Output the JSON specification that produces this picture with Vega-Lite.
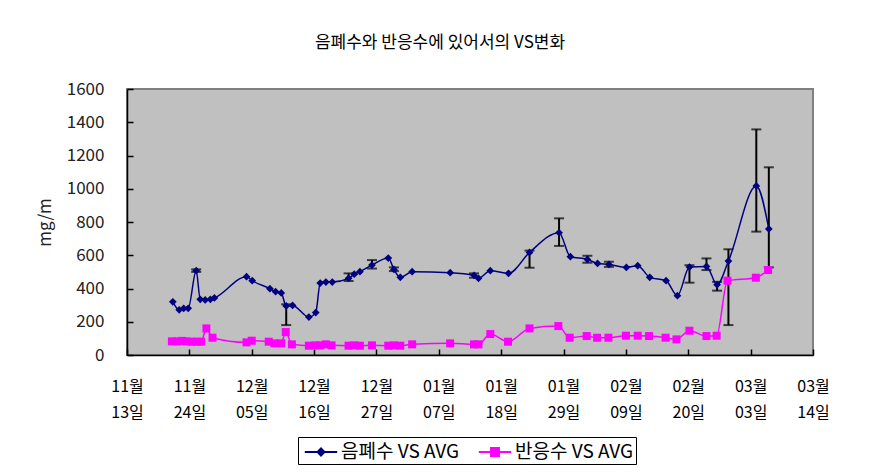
{
  "$schema": "https://vega.github.io/schema/vega-lite/v6.json",
  "width": 686,
  "height": 266,
  "autosize": "none",
  "padding": {"left": 127, "top": 89, "right": 70, "bottom": 120},
  "background": "white",
  "title": {"text": "음폐수와 반응수에 있어서의 VS변화", "fontSize": 17, "fontWeight": "normal", "font": "Noto Sans CJK KR", "color": "black", "dx": -30, "offset": 28},
  "config": {
    "view": {"fill": "#C0C0C0", "stroke": "#808080", "strokeWidth": 2},
    "font": "Noto Sans CJK KR",
    "axisY": {"labelOverlap": false}
  },
  "data": {"values": [
    {"date": "2006/11/21 02:00", "series": "음폐수 VS AVG", "value": 320},
    {"date": "2006/11/22 05:00", "series": "음폐수 VS AVG", "value": 272},
    {"date": "2006/11/23 00:00", "series": "음폐수 VS AVG", "value": 280},
    {"date": "2006/11/23 19:00", "series": "음폐수 VS AVG", "value": 281},
    {"date": "2006/11/25 05:00", "series": "음폐수 VS AVG", "value": 507, "lo": 500, "hi": 515},
    {"date": "2006/11/25 22:00", "series": "음폐수 VS AVG", "value": 335},
    {"date": "2006/11/26 19:00", "series": "음폐수 VS AVG", "value": 331},
    {"date": "2006/11/27 17:00", "series": "음폐수 VS AVG", "value": 335},
    {"date": "2006/11/28 10:00", "series": "음폐수 VS AVG", "value": 343},
    {"date": "2006/12/04 02:00", "series": "음폐수 VS AVG", "value": 471},
    {"date": "2006/12/05 02:00", "series": "음폐수 VS AVG", "value": 447},
    {"date": "2006/12/08 05:00", "series": "음폐수 VS AVG", "value": 399},
    {"date": "2006/12/09 05:00", "series": "음폐수 VS AVG", "value": 381},
    {"date": "2006/12/10 05:00", "series": "음폐수 VS AVG", "value": 373},
    {"date": "2006/12/11 02:00", "series": "음폐수 VS AVG", "value": 295, "lo": 180, "hi": 305},
    {"date": "2006/12/12 05:00", "series": "음폐수 VS AVG", "value": 298},
    {"date": "2006/12/15 02:00", "series": "음폐수 VS AVG", "value": 228},
    {"date": "2006/12/16 07:00", "series": "음폐수 VS AVG", "value": 255},
    {"date": "2006/12/17 02:00", "series": "음폐수 VS AVG", "value": 433},
    {"date": "2006/12/18 02:00", "series": "음폐수 VS AVG", "value": 439},
    {"date": "2006/12/19 05:00", "series": "음폐수 VS AVG", "value": 439},
    {"date": "2006/12/22 02:00", "series": "음폐수 VS AVG", "value": 461, "lo": 445, "hi": 491},
    {"date": "2006/12/23 02:00", "series": "음폐수 VS AVG", "value": 486},
    {"date": "2006/12/24 02:00", "series": "음폐수 VS AVG", "value": 501},
    {"date": "2006/12/26 05:00", "series": "음폐수 VS AVG", "value": 541, "lo": 520, "hi": 571},
    {"date": "2006/12/29 02:00", "series": "음폐수 VS AVG", "value": 583},
    {"date": "2006/12/30 02:00", "series": "음폐수 VS AVG", "value": 515, "lo": 505, "hi": 527},
    {"date": "2006/12/31 05:00", "series": "음폐수 VS AVG", "value": 467},
    {"date": "2007/01/02 07:00", "series": "음폐수 VS AVG", "value": 501},
    {"date": "2007/01/09 00:00", "series": "음폐수 VS AVG", "value": 495},
    {"date": "2007/01/13 05:00", "series": "음폐수 VS AVG", "value": 479, "lo": 465, "hi": 491},
    {"date": "2007/01/14 00:00", "series": "음폐수 VS AVG", "value": 461},
    {"date": "2007/01/16 02:00", "series": "음폐수 VS AVG", "value": 507},
    {"date": "2007/01/19 07:00", "series": "음폐수 VS AVG", "value": 491},
    {"date": "2007/01/23 00:00", "series": "음폐수 VS AVG", "value": 617, "lo": 525, "hi": 628},
    {"date": "2007/01/28 05:00", "series": "음폐수 VS AVG", "value": 736, "lo": 656, "hi": 822},
    {"date": "2007/01/30 05:00", "series": "음폐수 VS AVG", "value": 591},
    {"date": "2007/02/02 05:00", "series": "음폐수 VS AVG", "value": 575, "lo": 555, "hi": 597},
    {"date": "2007/02/04 00:00", "series": "음폐수 VS AVG", "value": 551},
    {"date": "2007/02/06 00:00", "series": "음폐수 VS AVG", "value": 545, "lo": 530, "hi": 561},
    {"date": "2007/02/09 02:00", "series": "음폐수 VS AVG", "value": 527},
    {"date": "2007/02/11 02:00", "series": "음폐수 VS AVG", "value": 537},
    {"date": "2007/02/13 05:00", "series": "음폐수 VS AVG", "value": 467},
    {"date": "2007/02/16 02:00", "series": "음폐수 VS AVG", "value": 447},
    {"date": "2007/02/18 02:00", "series": "음폐수 VS AVG", "value": 357},
    {"date": "2007/02/20 05:00", "series": "음폐수 VS AVG", "value": 529, "lo": 435, "hi": 540},
    {"date": "2007/02/23 05:00", "series": "음폐수 VS AVG", "value": 533, "lo": 511, "hi": 581},
    {"date": "2007/02/25 02:00", "series": "음폐수 VS AVG", "value": 423, "lo": 387, "hi": 440},
    {"date": "2007/02/27 02:00", "series": "음폐수 VS AVG", "value": 565, "lo": 180, "hi": 636},
    {"date": "2007/03/04 00:00", "series": "음폐수 VS AVG", "value": 1017, "lo": 742, "hi": 1357},
    {"date": "2007/03/06 05:00", "series": "음폐수 VS AVG", "value": 758, "lo": 527, "hi": 1129},
    {"date": "2006/11/20 22:00", "series": "반응수 VS AVG", "value": 82},
    {"date": "2006/11/21 19:00", "series": "반응수 VS AVG", "value": 82},
    {"date": "2006/11/22 17:00", "series": "반응수 VS AVG", "value": 85},
    {"date": "2006/11/23 12:00", "series": "반응수 VS AVG", "value": 82},
    {"date": "2006/11/24 10:00", "series": "반응수 VS AVG", "value": 80},
    {"date": "2006/11/25 07:00", "series": "반응수 VS AVG", "value": 80},
    {"date": "2006/11/26 02:00", "series": "반응수 VS AVG", "value": 80},
    {"date": "2006/11/27 00:00", "series": "반응수 VS AVG", "value": 160},
    {"date": "2006/11/28 02:00", "series": "반응수 VS AVG", "value": 104},
    {"date": "2006/12/04 02:00", "series": "반응수 VS AVG", "value": 76},
    {"date": "2006/12/05 00:00", "series": "반응수 VS AVG", "value": 86},
    {"date": "2006/12/08 00:00", "series": "반응수 VS AVG", "value": 80},
    {"date": "2006/12/09 00:00", "series": "반응수 VS AVG", "value": 70},
    {"date": "2006/12/10 05:00", "series": "반응수 VS AVG", "value": 70},
    {"date": "2006/12/11 00:00", "series": "반응수 VS AVG", "value": 138},
    {"date": "2006/12/12 02:00", "series": "반응수 VS AVG", "value": 64},
    {"date": "2006/12/15 02:00", "series": "반응수 VS AVG", "value": 56},
    {"date": "2006/12/16 05:00", "series": "반응수 VS AVG", "value": 58},
    {"date": "2006/12/17 02:00", "series": "반응수 VS AVG", "value": 58},
    {"date": "2006/12/18 02:00", "series": "반응수 VS AVG", "value": 64},
    {"date": "2006/12/19 02:00", "series": "반응수 VS AVG", "value": 58},
    {"date": "2006/12/22 02:00", "series": "반응수 VS AVG", "value": 56},
    {"date": "2006/12/23 02:00", "series": "반응수 VS AVG", "value": 58},
    {"date": "2006/12/24 02:00", "series": "반응수 VS AVG", "value": 56},
    {"date": "2006/12/26 05:00", "series": "반응수 VS AVG", "value": 58},
    {"date": "2006/12/29 02:00", "series": "반응수 VS AVG", "value": 56},
    {"date": "2006/12/30 02:00", "series": "반응수 VS AVG", "value": 58},
    {"date": "2006/12/31 05:00", "series": "반응수 VS AVG", "value": 56},
    {"date": "2007/01/02 07:00", "series": "반응수 VS AVG", "value": 64},
    {"date": "2007/01/09 00:00", "series": "반응수 VS AVG", "value": 70},
    {"date": "2007/01/13 05:00", "series": "반응수 VS AVG", "value": 64},
    {"date": "2007/01/14 00:00", "series": "반응수 VS AVG", "value": 64},
    {"date": "2007/01/16 02:00", "series": "반응수 VS AVG", "value": 126},
    {"date": "2007/01/19 05:00", "series": "반응수 VS AVG", "value": 80},
    {"date": "2007/01/23 00:00", "series": "반응수 VS AVG", "value": 160},
    {"date": "2007/01/28 02:00", "series": "반응수 VS AVG", "value": 174},
    {"date": "2007/01/30 02:00", "series": "반응수 VS AVG", "value": 104},
    {"date": "2007/02/02 02:00", "series": "반응수 VS AVG", "value": 114},
    {"date": "2007/02/03 22:00", "series": "반응수 VS AVG", "value": 104},
    {"date": "2007/02/05 22:00", "series": "반응수 VS AVG", "value": 104},
    {"date": "2007/02/09 00:00", "series": "반응수 VS AVG", "value": 116},
    {"date": "2007/02/11 02:00", "series": "반응수 VS AVG", "value": 116},
    {"date": "2007/02/13 02:00", "series": "반응수 VS AVG", "value": 114},
    {"date": "2007/02/16 00:00", "series": "반응수 VS AVG", "value": 104},
    {"date": "2007/02/17 22:00", "series": "반응수 VS AVG", "value": 94},
    {"date": "2007/02/20 05:00", "series": "반응수 VS AVG", "value": 146},
    {"date": "2007/02/23 05:00", "series": "반응수 VS AVG", "value": 114},
    {"date": "2007/02/25 00:00", "series": "반응수 VS AVG", "value": 116},
    {"date": "2007/02/26 22:00", "series": "반응수 VS AVG", "value": 447},
    {"date": "2007/03/03 22:00", "series": "반응수 VS AVG", "value": 465},
    {"date": "2007/03/06 02:00", "series": "반응수 VS AVG", "value": 511}
  ]},
  "encoding": {
    "x": {
      "field": "date", "type": "temporal",
      "scale": {"domain": [{"year": 2006, "month": 11, "date": 13}, {"year": 2007, "month": 3, "date": 14}], "nice": false},
      "axis": {
        "title": null,
        "values": [
          {"year": 2006, "month": 11, "date": 13}, {"year": 2006, "month": 11, "date": 24},
          {"year": 2006, "month": 12, "date": 5}, {"year": 2006, "month": 12, "date": 16},
          {"year": 2006, "month": 12, "date": 27}, {"year": 2007, "month": 1, "date": 7},
          {"year": 2007, "month": 1, "date": 18}, {"year": 2007, "month": 1, "date": 29},
          {"year": 2007, "month": 2, "date": 9}, {"year": 2007, "month": 2, "date": 20},
          {"year": 2007, "month": 3, "date": 3}, {"year": 2007, "month": 3, "date": 14}
        ],
        "labelExpr": "[timeFormat(datum.value, '%m월'), timeFormat(datum.value, '%d일')]",
        "labelFontSize": 16, "labelLineHeight": 26, "labelColor": "black",
        "labelFlush": false, "labelOverlap": false, "labelPadding": 29,
        "tickSize": -6, "tickColor": "black", "tickWidth": 1.5,
        "domainColor": "black", "domainWidth": 1.5, "grid": false
      }
    },
    "y": {
      "field": "value", "type": "quantitative",
      "scale": {"domain": [0, 1600], "nice": false},
      "axis": {
        "title": "mg/m", "titleFontSize": 17, "titleFontWeight": "normal", "titleColor": "#222", "titlePadding": 12,
        "values": [0, 200, 400, 600, 800, 1000, 1200, 1400, 1600], "format": "d",
        "labelFontSize": 17, "labelColor": "#222", "labelPadding": 29, "labelOverlap": false,
        "tickSize": -6, "tickColor": "black", "tickWidth": 1.5,
        "domainColor": "black", "domainWidth": 1.5, "grid": false
      }
    },
    "color": {
      "field": "series", "type": "nominal",
      "scale": {"domain": ["음폐수 VS AVG", "반응수 VS AVG"], "range": ["#000080", "#FF00FF"]},
      "legend": {
        "title": null, "orient": "none", "legendX": 171, "legendY": 348, "direction": "horizontal",
        "strokeColor": "black", "fillColor": "white", "padding": 2,
        "labelFontSize": 19, "labelColor": "black", "labelOffset": 7, "columnPadding": 14,
        "symbolSize": 576, "symbolStrokeWidth": 2, "symbolOffset": 8,
        "symbolType": {"expr": "datum.value == '음폐수 VS AVG' ? 'M-1.35,0L1.35,0M0,-0.3L0.29,0L0,0.3L-0.29,0Z' : 'M-1.35,0L1.35,0M-0.33,-0.33L0.33,-0.33L0.33,0.33L-0.33,0.33Z'"},
        "symbolFillColor": {"expr": "datum.value == '음폐수 VS AVG' ? '#000080' : '#FF00FF'"},
        "symbolStrokeColor": {"expr": "datum.value == '음폐수 VS AVG' ? '#000080' : '#FF00FF'"}
      }
    }
  },
  "layer": [
    {
      "transform": [{"filter": "isValid(datum.lo)"}],
      "mark": {"type": "rule", "color": "black", "strokeWidth": 2},
      "encoding": {"y": {"field": "lo", "type": "quantitative"}, "y2": {"field": "hi"}, "color": {"value": "black"}}
    },
    {
      "transform": [{"filter": "isValid(datum.lo)"}],
      "mark": {"type": "tick", "orient": "horizontal", "color": "black", "size": 10, "thickness": 2},
      "encoding": {"y": {"field": "lo", "type": "quantitative"}, "color": {"value": "black"}}
    },
    {
      "transform": [{"filter": "isValid(datum.lo)"}],
      "mark": {"type": "tick", "orient": "horizontal", "color": "black", "size": 10, "thickness": 2},
      "encoding": {"y": {"field": "hi", "type": "quantitative"}, "color": {"value": "black"}}
    },
    {
      "mark": {"type": "line", "interpolate": "monotone", "strokeWidth": 1.5}
    },
    {
      "transform": [{"filter": "datum.series == '음폐수 VS AVG'"}],
      "mark": {"type": "point", "filled": true, "opacity": 1, "shape": "diamond", "size": 60}
    },
    {
      "transform": [{"filter": "datum.series == '반응수 VS AVG'"}],
      "mark": {"type": "point", "filled": true, "opacity": 1, "shape": "square", "size": 64}
    }
  ]
}
